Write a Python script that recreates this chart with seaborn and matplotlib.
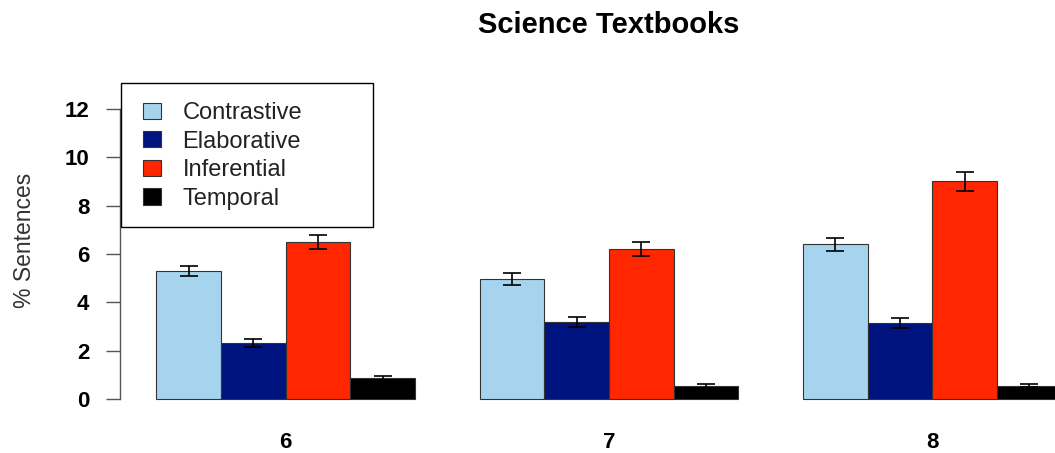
import matplotlib
matplotlib.use("Agg")
import matplotlib.pyplot as plt
import seaborn as sns
import pandas as pd
from matplotlib.patches import Rectangle

# valeurs (% de phrases par niveau)
grades = ["6", "7", "8"]
types = ["Contrastive", "Elaborative", "Inferential", "Temporal"]
contrastive = [5.3, 4.98, 6.4]
elaborative = [2.33, 3.2, 3.14]
inferential = [6.5, 6.2, 9.0]
temporal = [0.87, 0.55, 0.57]
contrastive_err = [0.2, 0.24, 0.26]
elaborative_err = [0.18, 0.2, 0.2]
inferential_err = [0.3, 0.28, 0.39]
temporal_err = [0.1, 0.07, 0.07]
colors = ["#A6D4EE", "#001480", "#FF2600", "#000000"]

values = [contrastive, elaborative, inferential, temporal]
errors = [contrastive_err, elaborative_err, inferential_err, temporal_err]

rows = []
for t, vals, errs in zip(types, values, errors):
    for g, v, e in zip(grades, vals, errs):
        rows.append({"grade": g, "type": t, "pct": v, "err": e})
df = pd.DataFrame(rows)

sns.set_style("white")
plt.rcParams["font.family"] = ["Liberation Sans", "DejaVu Sans"]
plt.rcParams["text.color"] = "black"

fig = plt.figure(figsize=(10.55, 4.53), dpi=100)
ax = fig.add_axes([0.1137, 0.0927, 0.927, 0.693])

sns.barplot(data=df, x="grade", y="pct", hue="type", order=grades, hue_order=types,
            palette=colors, saturation=1, width=0.8, errorbar=None, legend=False,
            edgecolor="#333333", linewidth=0.8, ax=ax)
bar_containers = list(ax.containers)

# barres d'erreur au centre de chaque barre
for container, errs in zip(bar_containers, errors):
    for bar, e in zip(container, errs):
        x = bar.get_x() + bar.get_width() / 2
        ax.errorbar(x, bar.get_height(), yerr=e, color="black", capsize=6.5,
                    elinewidth=1.2, capthick=1.2, zorder=5)

ax.set_xlim(-0.512, 2.512)
ax.set_ylim(-0.48, 12.48)
ax.set_yticks(range(0, 13, 2))
ax.set_xlabel("")
ax.set_ylabel("")

for s in ["top", "right", "bottom"]:
    ax.spines[s].set_visible(False)
ax.spines["left"].set_bounds(0, 12)
ax.spines["left"].set_color("#555555")
ax.spines["left"].set_linewidth(1)

ax.tick_params(axis="y", left=True, direction="out", length=10, width=1,
               color="#555555", pad=12, labelsize=16, labelcolor="black")
ax.tick_params(axis="x", bottom=False, length=0, pad=15, labelsize=16,
               labelcolor="black")
plt.setp(ax.get_yticklabels(), fontweight="bold")
plt.setp(ax.get_xticklabels(), fontweight="bold")

fig.text(609 / 1055, 1 - 25 / 453, "Science Textbooks", ha="center", va="center",
         fontsize=21, fontweight="bold", color="black")
fig.text(25 / 1055, 1 - 240 / 453, "% Sentences", rotation=90, ha="center",
         va="center", fontsize=16.5, color="#333333")

# cadre de la légende
fig.patches.append(Rectangle((0.1147, 0.4989), 0.2389, 0.3179, transform=fig.transFigure,
                             fill=True, facecolor="white", edgecolor="black",
                             linewidth=1, zorder=10))
handles = [c.patches[0] for c in bar_containers]
leg = fig.legend(handles, types, loc="upper left", bbox_to_anchor=(0.1355, 0.775),
                 frameon=False, borderpad=0, borderaxespad=0, fontsize=17,
                 handlelength=0.77, handleheight=0.68, handletextpad=0.9,
                 labelspacing=0.28, labelcolor="#222222")
leg.set_zorder(11)

fig.savefig("out.png", dpi=100)
